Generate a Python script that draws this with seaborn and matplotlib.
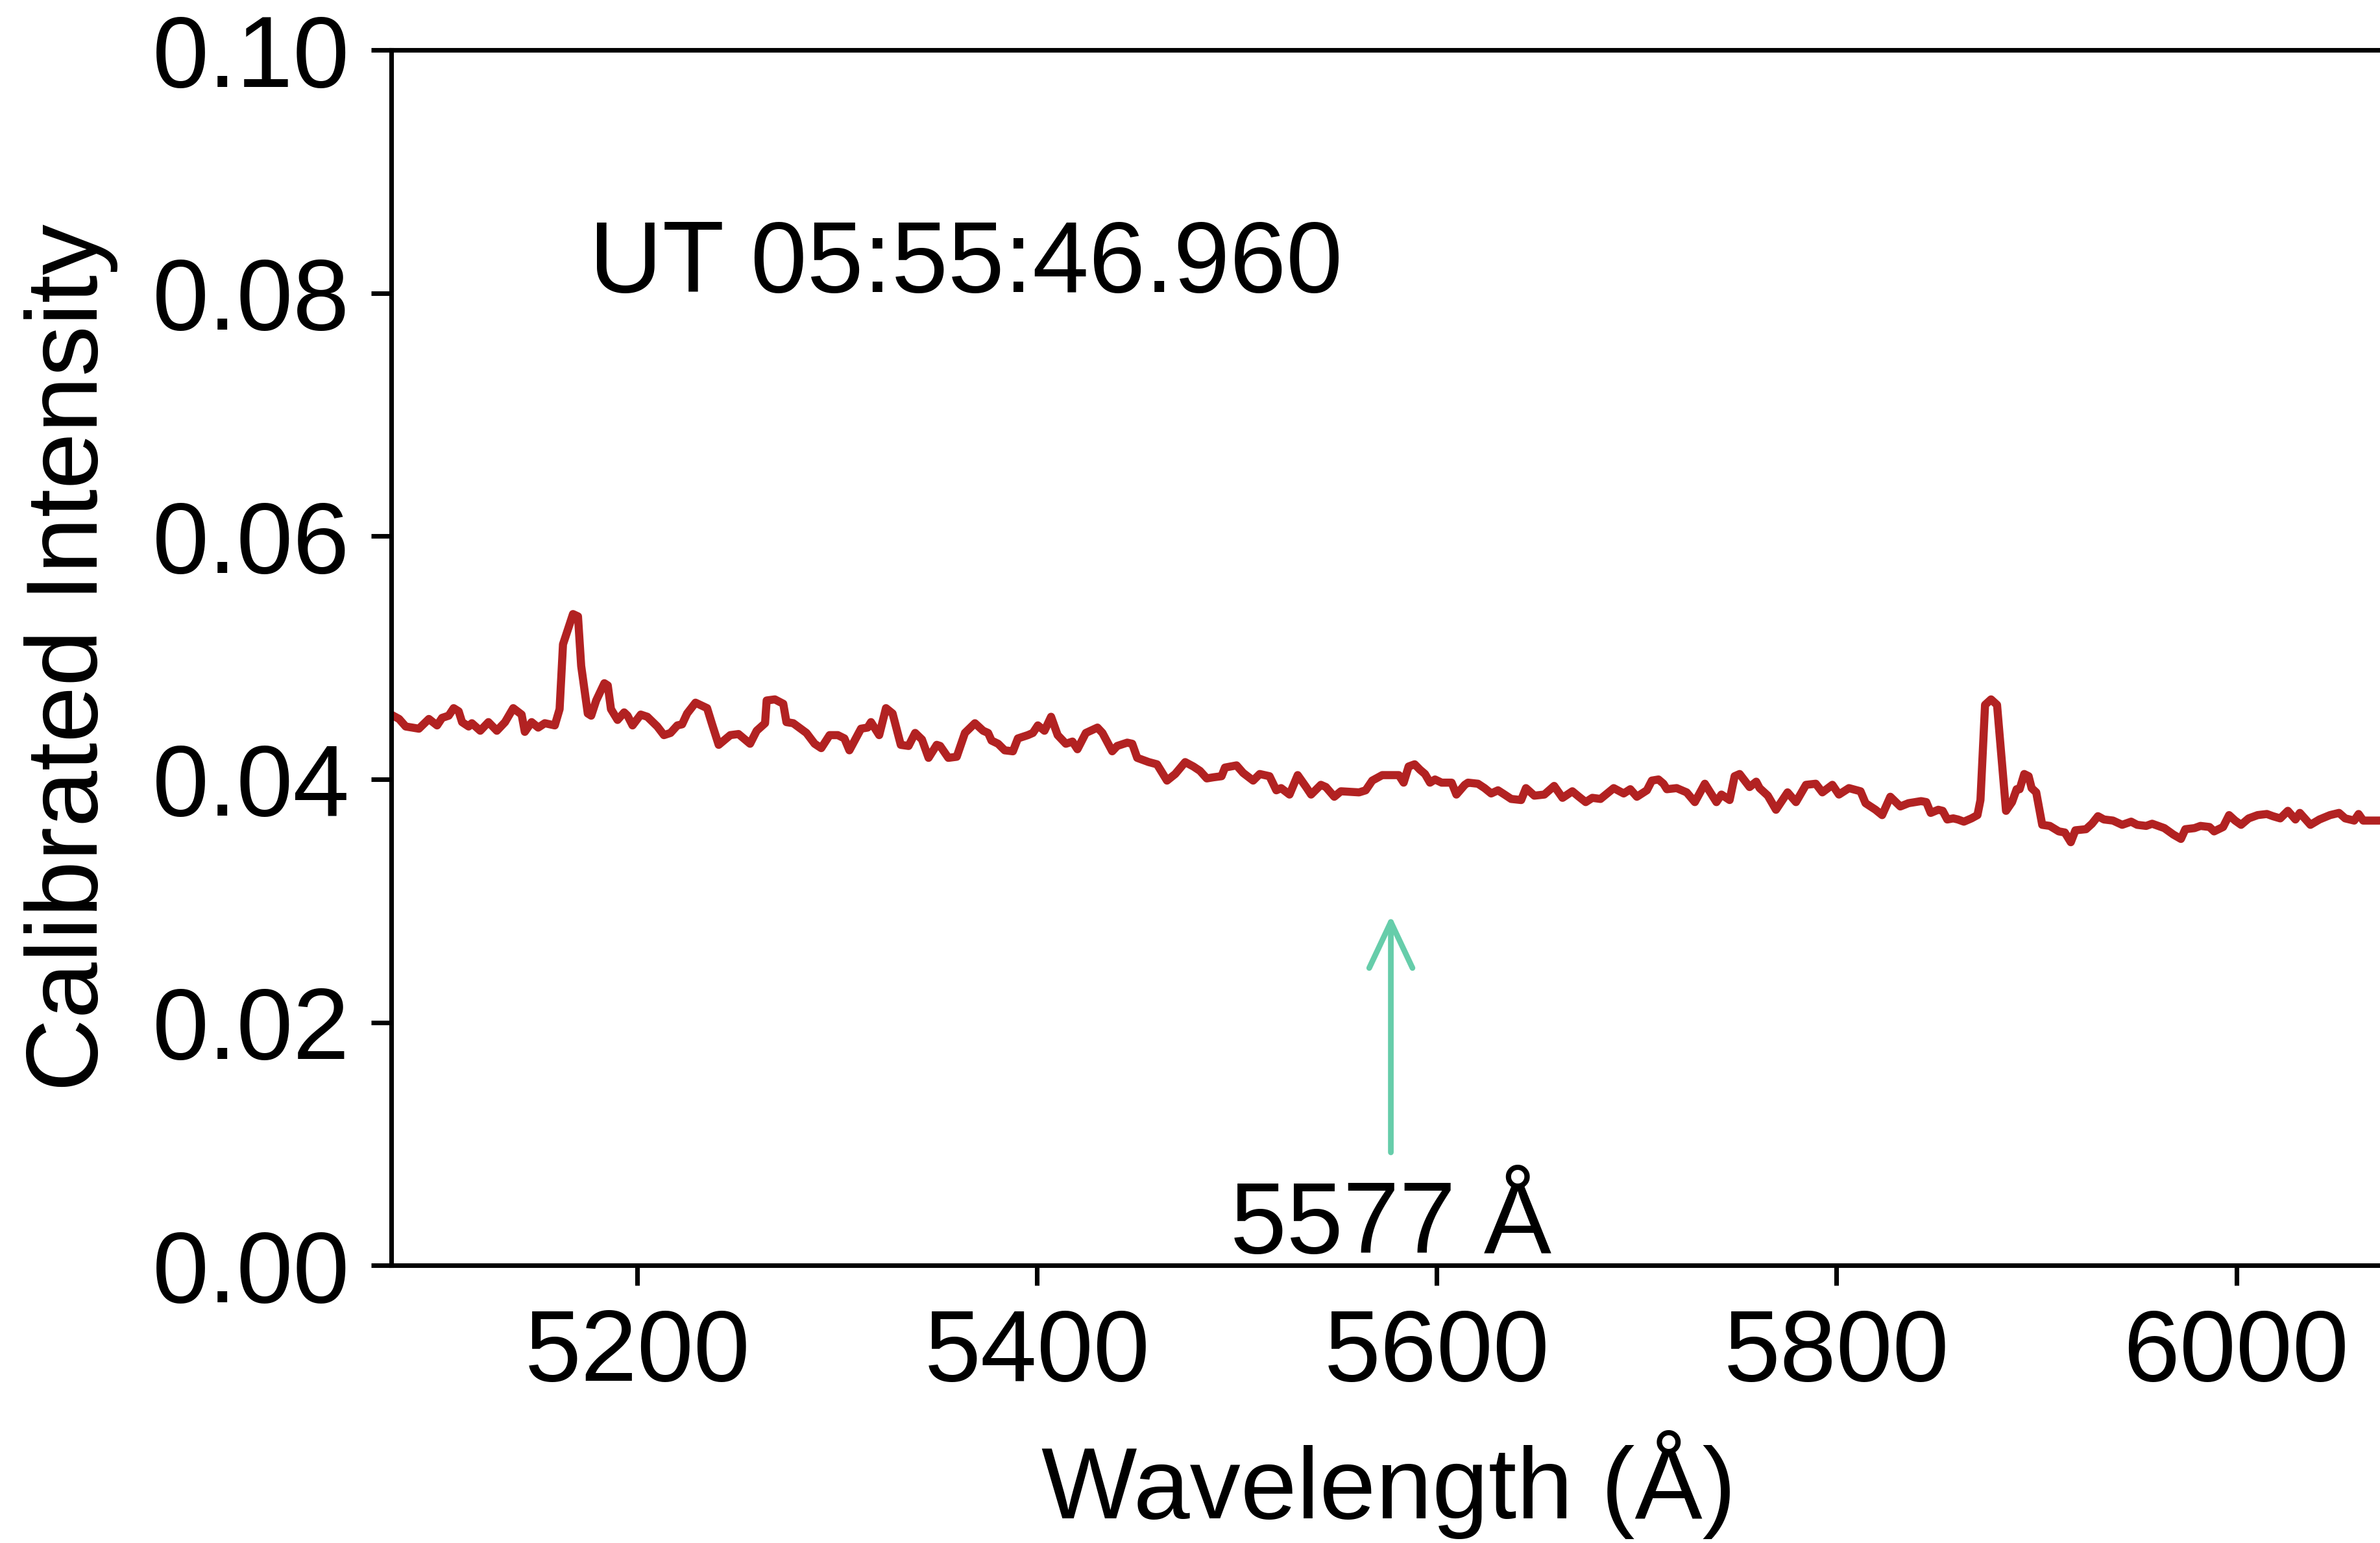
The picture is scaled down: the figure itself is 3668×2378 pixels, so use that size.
import matplotlib
import matplotlib.pyplot as plt
import pandas as pd
import seaborn as sns

matplotlib.use("Agg")

# spectrum (wavelength in Angstrom, calibrated intensity)
wavelength = [
    5075.8, 5080.8, 5084.1, 5090.7, 5095.7, 5099.8, 5102.3, 5105.6, 5108.1, 5110.6,
    5112.3, 5115.6, 5117.2, 5121.4, 5125.5, 5129.7, 5133.8, 5137.9, 5142.1, 5143.7,
    5147.1, 5150.4, 5153.7, 5158.7, 5161.1, 5162.8, 5167.8, 5170.3, 5171.9, 5175.2,
    5176.9, 5179.4, 5183.5, 5185.2, 5186.8, 5190.1, 5193.4, 5195.1, 5197.6, 5201.7,
    5205.0, 5210.0, 5213.3, 5216.6, 5220.0, 5222.4, 5224.9, 5229.1, 5234.9, 5237.4,
    5240.7, 5246.5, 5250.6, 5256.4, 5259.7, 5263.9, 5264.7, 5268.8, 5273.0, 5274.6,
    5278.0, 5284.6, 5288.7, 5292.0, 5296.2, 5300.3, 5303.6, 5306.1, 5311.9, 5315.2,
    5316.9, 5321.0, 5324.4, 5327.7, 5331.8, 5335.7, 5339.0, 5342.4, 5345.7, 5349.8,
    5351.5, 5355.6, 5359.8, 5363.9, 5368.9, 5373.0, 5375.5, 5377.2, 5380.5, 5383.8,
    5387.9, 5390.4, 5395.4, 5397.9, 5400.4, 5403.7, 5407.0, 5410.3, 5414.4, 5417.7,
    5420.2, 5424.4, 5430.2, 5432.7, 5437.6, 5440.1, 5445.1, 5447.6, 5450.1, 5455.9,
    5460.0, 5465.0, 5469.1, 5474.1, 5478.2, 5481.5, 5484.9, 5488.2, 5492.3, 5494.0,
    5499.8, 5503.1, 5508.1, 5511.4, 5516.3, 5519.7, 5522.1, 5526.3, 5530.4, 5534.6,
    5537.1, 5542.0, 5544.5, 5548.7, 5552.0, 5561.1, 5564.4, 5567.7, 5572.7, 5581.0,
    5583.4, 5585.9, 5588.9, 5591.6, 5594.1, 5596.6, 5599.1, 5602.4, 5607.4, 5609.8,
    5614.0, 5615.6, 5620.6, 5623.9, 5627.2, 5630.6, 5633.9, 5637.2, 5642.2, 5644.6,
    5648.8, 5653.8, 5658.7, 5662.9, 5667.8, 5671.1, 5674.5, 5677.8, 5681.9, 5688.5,
    5693.5, 5696.8, 5700.1, 5705.1, 5707.6, 5710.9, 5713.4, 5715.1, 5720.0, 5725.0,
    5729.1, 5734.1, 5739.9, 5742.4, 5746.5, 5749.0, 5751.5, 5756.5, 5759.8, 5761.5,
    5765.6, 5769.7, 5775.5, 5779.7, 5784.7, 5789.6, 5792.9, 5797.9, 5801.2, 5806.2,
    5812.0, 5814.5, 5819.5, 5822.8, 5826.9, 5831.9, 5836.0, 5842.3, 5844.9, 5847.1,
    5850.9, 5853.1, 5855.4, 5858.4, 5860.7, 5863.7, 5867.5, 5870.5, 5872.0, 5874.3,
    5877.3, 5880.3, 5882.5, 5884.8, 5887.8, 5890.1, 5891.6, 5893.9, 5896.1, 5897.6,
    5899.9, 5902.9, 5906.7, 5911.2, 5914.2, 5917.2, 5919.5, 5924.8, 5927.8, 5930.8,
    5933.8, 5938.3, 5942.9, 5947.4, 5950.4, 5954.9, 5957.9, 5964.0, 5968.5, 5972.3,
    5974.5, 5979.1, 5982.1, 5986.6, 5988.9, 5993.4, 5996.4, 5999.4, 6002.4, 6006.2,
    6010.7, 6015.3, 6018.3, 6022.0, 6025.8, 6029.6, 6031.8, 6037.1, 6041.6, 6046.9,
    6051.4, 6054.5, 6059.0, 6061.2, 6063.5, 6072.3, 6077.0,
]
intensity = [
    0.04541, 0.04496, 0.04434, 0.04416, 0.04496, 0.04443, 0.04505, 0.04523, 0.04585, 0.04559,
    0.04470, 0.04434, 0.04461, 0.04399, 0.04470, 0.04399, 0.04470, 0.04585, 0.04532, 0.04390,
    0.04470, 0.04425, 0.04461, 0.04443, 0.04577, 0.05110, 0.05359, 0.05340, 0.04932, 0.04541,
    0.04523, 0.04648, 0.04790, 0.04772, 0.04577, 0.04488, 0.04550, 0.04523, 0.04443, 0.04532,
    0.04514, 0.04434, 0.04363, 0.04381, 0.04443, 0.04452, 0.04541, 0.04630, 0.04585, 0.04452,
    0.04283, 0.04363, 0.04372, 0.04292, 0.04399, 0.04461, 0.04648, 0.04657, 0.04621, 0.04470,
    0.04461, 0.04381, 0.04292, 0.04256, 0.04363, 0.04363, 0.04336, 0.04238, 0.04416, 0.04425,
    0.04470, 0.04363, 0.04585, 0.04541, 0.04283, 0.04274, 0.04381, 0.04327, 0.04176, 0.04283,
    0.04274, 0.04176, 0.04185, 0.04381, 0.04461, 0.04399, 0.04381, 0.04318, 0.04292, 0.04238,
    0.04230, 0.04336, 0.04363, 0.04381, 0.04443, 0.04399, 0.04514, 0.04363, 0.04292, 0.04310,
    0.04247, 0.04381, 0.04425, 0.04381, 0.04230, 0.04274, 0.04301, 0.04292, 0.04176, 0.04141,
    0.04123, 0.03989, 0.04043, 0.04141, 0.04105, 0.04069, 0.04007, 0.04016, 0.04025, 0.04096,
    0.04114, 0.04052, 0.03989, 0.04043, 0.04025, 0.03909, 0.03927, 0.03874, 0.04034, 0.03936,
    0.03874, 0.03954, 0.03936, 0.03856, 0.03901, 0.03892, 0.03909, 0.03989, 0.04034, 0.04034,
    0.03972, 0.04105, 0.04123, 0.04078, 0.04043, 0.03972, 0.03998, 0.03972, 0.03972, 0.03874,
    0.03954, 0.03972, 0.03963, 0.03927, 0.03883, 0.03909, 0.03874, 0.03838, 0.03829, 0.03927,
    0.03865, 0.03874, 0.03945, 0.03847, 0.03901, 0.03856, 0.03812, 0.03847, 0.03838, 0.03927,
    0.03883, 0.03918, 0.03856, 0.03909, 0.03989, 0.03998, 0.03963, 0.03918, 0.03927, 0.03892,
    0.03812, 0.03963, 0.03812, 0.03874, 0.03829, 0.04025, 0.04043, 0.03936, 0.03980, 0.03927,
    0.03865, 0.03749, 0.03892, 0.03812, 0.03954, 0.03963, 0.03892, 0.03954, 0.03874, 0.03927,
    0.03901, 0.03803, 0.03749, 0.03705, 0.03856, 0.03776, 0.03803, 0.03820, 0.03812, 0.03723,
    0.03749, 0.03740, 0.03669, 0.03678, 0.03669, 0.03651, 0.03678, 0.03705, 0.03829, 0.04612,
    0.04657, 0.04612, 0.04185, 0.03740, 0.03812, 0.03918, 0.03918, 0.04043, 0.04025, 0.03927,
    0.03892, 0.03625, 0.03616, 0.03571, 0.03562, 0.03482, 0.03580, 0.03589, 0.03634, 0.03696,
    0.03669, 0.03660, 0.03625, 0.03651, 0.03625, 0.03616, 0.03634, 0.03598, 0.03545, 0.03509,
    0.03589, 0.03598, 0.03616, 0.03607, 0.03571, 0.03607, 0.03705, 0.03660, 0.03625, 0.03678,
    0.03705, 0.03714, 0.03696, 0.03678, 0.03740, 0.03669, 0.03723, 0.03625, 0.03669, 0.03705,
    0.03723, 0.03678, 0.03660, 0.03714, 0.03660, 0.03660, 0.03660,
]
x_ticks = [5200, 5400, 5600, 5800, 6000]
y_ticks = [0.00, 0.02, 0.04, 0.06, 0.08, 0.10]
line_wavelength = 5577
timestamp = "UT 05:55:46.960"

sns.set_style("ticks")
plt.rcParams["font.family"] = ["Liberation Sans", "DejaVu Sans"]
plt.rcParams["text.color"] = "black"
plt.rcParams["axes.labelcolor"] = "black"

spectrum = pd.DataFrame({"wavelength": wavelength, "intensity": intensity})

fs = 37.5
fig = plt.figure(figsize=(3668 / 300, 2378 / 300), dpi=300)
ax = fig.add_axes([0.1645, 0.1799, 0.8381, 0.7877])
sns.lineplot(data=spectrum, x="wavelength", y="intensity", color="#b22222", linewidth=3.0, ax=ax)

ax.set_xlim(5077, 6075)
ax.set_ylim(0, 0.10)
ax.set_xticks(x_ticks)
ax.set_yticks(y_ticks)
ax.set_yticklabels([f"{v:.2f}" for v in y_ticks])
ax.tick_params(axis="both", labelsize=fs, length=7.5, width=1.7, direction="out",
               colors="black", labelcolor="black", pad=8)
for spine in ax.spines.values():
    spine.set_linewidth(1.7)
    spine.set_color("black")
    spine.set_visible(True)
ax.set_xlabel("Wavelength (Å)", fontsize=fs, labelpad=10.5)
ax.set_ylabel("Calibrated Intensity", fontsize=fs, labelpad=12.5)

ax.text(5176, 0.0801, timestamp, fontsize=fs, ha="left", va="baseline")
ax.annotate(
    "",
    xy=(line_wavelength, 0.0288),
    xytext=(line_wavelength, 0.0093),
    arrowprops=dict(arrowstyle="->,head_length=0.85,head_width=0.4", color="#66cdaa",
                    lw=2.1, mutation_scale=20, shrinkA=0, shrinkB=0),
)
ax.text(line_wavelength, 0.00105, "5577 Å", fontsize=fs, ha="center", va="baseline")

fig.savefig("out.png", dpi=300)
plt.close(fig)
